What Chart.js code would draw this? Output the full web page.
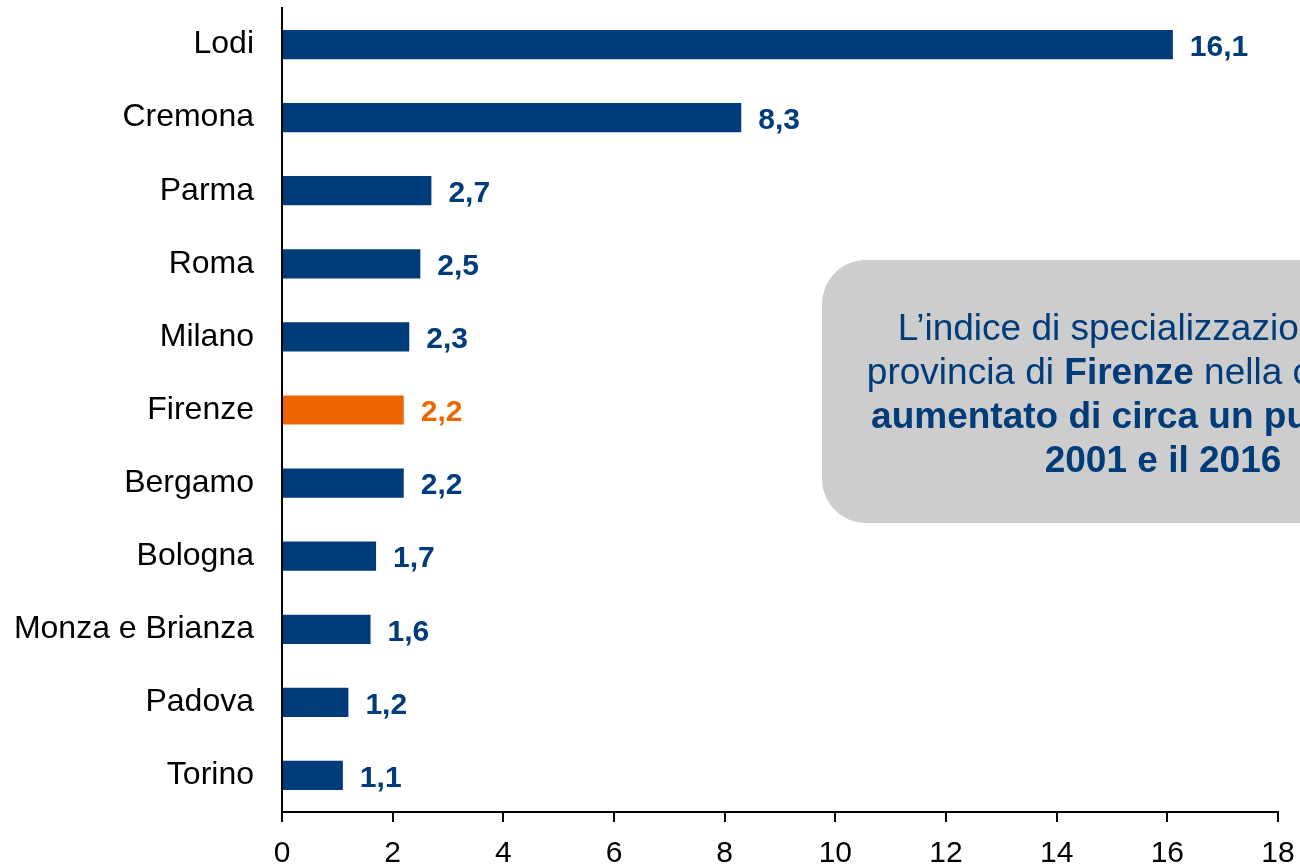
<!DOCTYPE html>
<html>
<head>
<meta charset="utf-8">
<script src="https://cdn.jsdelivr.net/npm/chart.js@4.4.1/dist/chart.umd.min.js"></script>
<style>
  html, body { margin: 0; padding: 0; background: #fff; }
  #wrap { width: 1300px; height: 864px; }
</style>
</head>
<body>
<div id="wrap"><canvas id="chart" width="1300" height="864"></canvas></div>
<script>
// province e indice di specializzazione
const provinces = ['Lodi', 'Cremona', 'Parma', 'Roma', 'Milano', 'Firenze', 'Bergamo', 'Bologna', 'Monza e Brianza', 'Padova', 'Torino'];
const indexValues = [16.1, 8.3, 2.7, 2.5, 2.3, 2.2, 2.2, 1.7, 1.6, 1.2, 1.1];
const xTicks = [0, 2, 4, 6, 8, 10, 12, 14, 16, 18];
const highlight = 'Firenze';

const NAVY = '#003b7a';
const ORANGE = '#ee6600';
const FONT = '"Liberation Sans", Arial, sans-serif';

const barColors = provinces.map(p => p === highlight ? ORANGE : NAVY);

// etichette dei valori a destra delle barre
const valueLabels = {
    id: 'valueLabels',
    afterDatasetsDraw(chart) {
        const ctx = chart.ctx;
        const meta = chart.getDatasetMeta(0);
        ctx.save();
        ctx.font = 'bold 30px ' + FONT;
        ctx.textAlign = 'left';
        ctx.textBaseline = 'middle';
        meta.data.forEach((bar, i) => {
            ctx.fillStyle = barColors[i];
            ctx.fillText(indexValues[i].toFixed(1).replace('.', ','), bar.x + 17, bar.y + 3);
        });
        ctx.restore();
    }
};

// riquadro grigio con il commento
const noteBox = {
    id: 'noteBox',
    afterDraw(chart) {
        const ctx = chart.ctx;
        const a = chart.chartArea;
        const left = a.left + 540, top = a.top + 252, bottom = a.top + 515;
        const right = left + 700, r = 44;
        ctx.save();
        ctx.fillStyle = '#cdcdcd';
        ctx.beginPath();
        ctx.moveTo(left + r, top);
        ctx.lineTo(right - r, top);
        ctx.arcTo(right, top, right, top + r, r);
        ctx.lineTo(right, bottom - r);
        ctx.arcTo(right, bottom, right - r, bottom, r);
        ctx.lineTo(left + r, bottom);
        ctx.arcTo(left, bottom, left, bottom - r, r);
        ctx.lineTo(left, top + r);
        ctx.arcTo(left, top, left + r, top, r);
        ctx.closePath();
        ctx.fill();

        const cx = left + 341;
        const lines = [
            [['L\u2019indice di specializzazione della', false]],
            [['provincia di ', false], ['Firenze', true], [' nella cosmesi \u00e8', false]],
            [['aumentato di circa un punto tra il', true]],
            [['2001 e il 2016', true]]
        ];
        ctx.fillStyle = NAVY;
        ctx.textBaseline = 'alphabetic';
        ctx.textAlign = 'left';
        lines.forEach((parts, li) => {
            let w = 0;
            parts.forEach(p => {
                ctx.font = (p[1] ? 'bold ' : '') + '37px ' + FONT;
                w += ctx.measureText(p[0]).width;
            });
            let x = cx - w / 2;
            const y = top + 80 + li * 44;
            parts.forEach(p => {
                ctx.font = (p[1] ? 'bold ' : '') + '37px ' + FONT;
                ctx.fillText(p[0], x, y);
                x += ctx.measureText(p[0]).width;
            });
        });
        ctx.restore();
    }
};

new Chart(document.getElementById('chart').getContext('2d'), {
    type: 'bar',
    data: {
        labels: provinces,
        datasets: [{
            data: indexValues,
            backgroundColor: barColors,
            borderWidth: 0,
            categoryPercentage: 0.8,
            barPercentage: 0.5
        }]
    },
    options: {
        indexAxis: 'y',
        responsive: false,
        animation: false,
        layout: { padding: { top: 8, right: 22, bottom: 0, left: 0 } },
        plugins: {
            legend: { display: false },
            tooltip: { enabled: false }
        },
        scales: {
            x: {
                min: 0,
                max: 18,
                afterBuildTicks(scale) {
                    scale.ticks = xTicks.map(v => ({ value: v }));
                },
                afterFit(scale) {
                    scale.height = 52;
                    scale.paddingLeft = 0;
                    scale.paddingRight = 0;
                },
                grid: {
                    drawOnChartArea: false,
                    drawTicks: true,
                    tickLength: 10,
                    color: '#000',
                    lineWidth: 2
                },
                border: { display: true, color: '#000', width: 2 },
                ticks: {
                    color: '#000',
                    padding: 14,
                    maxRotation: 0,
                    font: { family: FONT, size: 30 }
                }
            },
            y: {
                afterFit(scale) {
                    scale.width = 282;
                    scale.paddingTop = 0;
                    scale.paddingBottom = 0;
                },
                grid: { display: false, drawTicks: false },
                border: { display: true, color: '#000', width: 2 },
                ticks: {
                    color: '#000',
                    padding: 28,
                    font: { family: FONT, size: 32 }
                }
            }
        }
    },
    plugins: [valueLabels, noteBox]
});
</script>
</body>
</html>
